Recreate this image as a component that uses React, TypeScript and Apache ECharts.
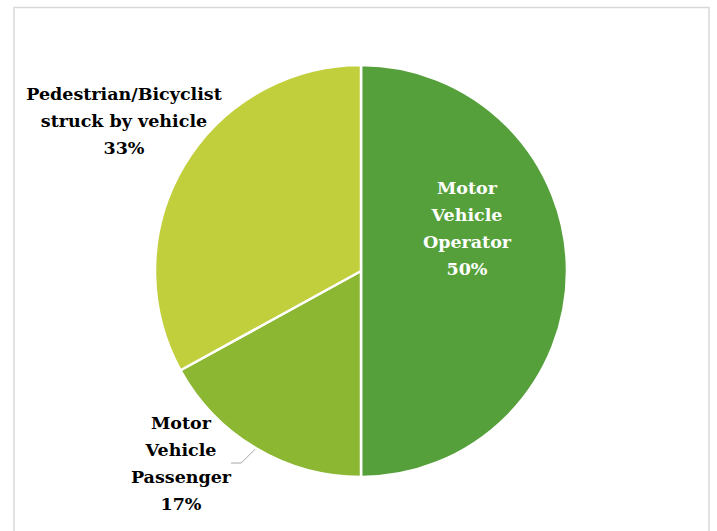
import React, { useEffect, useRef } from "react";
import * as echarts from "echarts";

const categories = [
  "Motor Vehicle Operator",
  "Motor Vehicle Passenger",
  "Pedestrian/Bicyclist struck by vehicle",
];
const labelTexts = [
  "Motor\nVehicle\nOperator",
  "Motor\nVehicle\nPassenger",
  "Pedestrian/Bicyclist\nstruck by vehicle",
];
const values = [50, 17, 33];
const colors = ["#55A03B", "#8BB733", "#C1CF3C"];
const labelColors = ["#ffffff", "#000000", "#000000"];

export default function App() {
  const ref = useRef<HTMLDivElement>(null);
  useEffect(() => {
    document.body.style.margin = "0";
    const chart = echarts.init(ref.current!, null, { renderer: "svg" });
    const labelPos = [
      { x: 467, y: 228 },
      { x: 181, y: 463 },
      { x: 124, y: 121 },
    ];
    chart.setOption({
      animation: false,
      backgroundColor: "#ffffff",
      graphic: [
        {
          type: "rect",
          shape: { x: 14, y: 7.5, width: 695, height: 560 },
          style: { fill: "none", stroke: "#d9d9d9", lineWidth: 1.5 },
          silent: true,
        },
      ],
      series: [
        {
          type: "pie",
          center: [361, 271],
          radius: 206,
          startAngle: 90,
          clockwise: true,
          percentPrecision: 0,
          itemStyle: { borderColor: "#ffffff", borderWidth: 2.5 },
          label: {
            show: true,
            fontFamily: "DejaVu Serif",
            fontWeight: "bold",
            fontSize: 17.5,
            lineHeight: 27,
            align: "center",
            overflow: "none",
            formatter: (p: any) => `${labelTexts[p.dataIndex]}\n${p.percent}%`,
          },
          labelLine: {
            show: true,
            lineStyle: { color: "#a6a6a6", width: 1 },
            length: 10,
            length2: 10,
          },
          labelLayout: (p: any) => ({
            x: labelPos[p.dataIndex].x,
            y: labelPos[p.dataIndex].y,
            align: "center",
            verticalAlign: "middle",
          }),
          data: categories.map((name, i) => ({
            name,
            value: values[i],
            itemStyle: { color: colors[i] },
            label: { color: labelColors[i] },
            labelLine: { show: i === 1 },
          })),
        },
      ],
    });
    return () => chart.dispose();
  }, []);
  return <div ref={ref} style={{ width: 717, height: 531 }} />;
}
